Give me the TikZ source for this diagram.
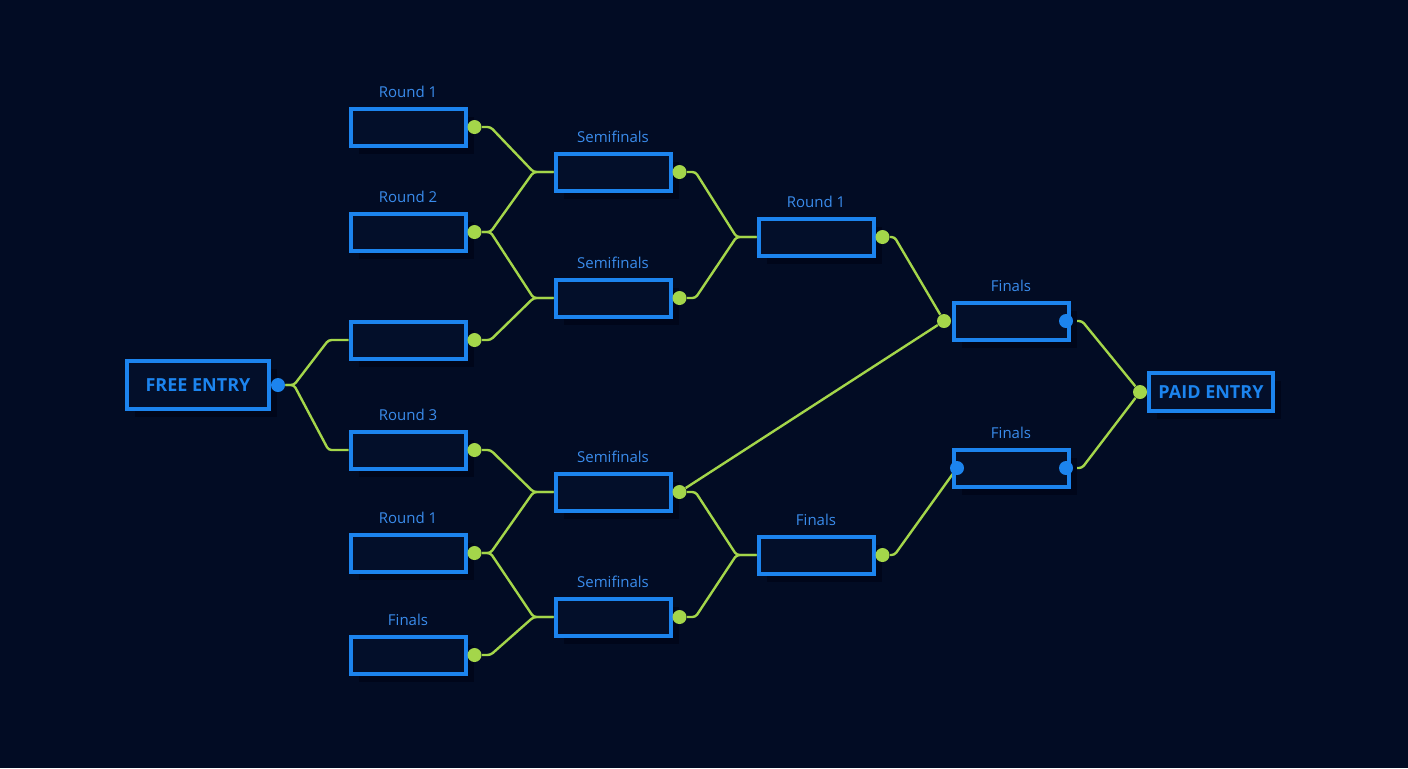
\documentclass[tikz,border=0pt]{standalone}
\usepackage{fontspec}
\setmainfont{Open Sans}
\usetikzlibrary{positioning, shadows}
\definecolor{bknavy}{HTML}{020C24}
\definecolor{bkbox}{HTML}{030F2A}
\definecolor{bkshade}{HTML}{00061A}
\definecolor{bkblue}{HTML}{1C84EE}
\definecolor{bklabel}{HTML}{3A8CEC}
\definecolor{bklime}{HTML}{A4D64A}
\pgfdeclarelayer{back}
\pgfsetlayers{back,main}

\begin{document}
\begin{tikzpicture}[x=0.5pt, y=-0.5pt,
    slot/.style={draw=bkblue, line width=2pt, fill=bkbox, minimum width=57.5pt, minimum height=18.5pt, inner sep=0pt,
      drop shadow={shadow xshift=4pt, shadow yshift=-4pt, fill=bkshade, opacity=1}},
    entry/.style={slot, text=bkblue, font=\bfseries\fontsize{9}{10}\selectfont},
    lbl/.style={text=bklabel, font=\fontsize{7.5}{9}\selectfont, inner sep=0pt},
    gdot/.style={circle, fill=bklime, minimum size=7pt, inner sep=0pt},
    bdot/.style={circle, fill=bkblue, minimum size=7pt, inner sep=0pt},
    wire/.style={draw=bklime, line width=1.2pt, rounded corners=1.5pt, to path={-- ++(8pt,0) -- ([xshift=-10pt]\tikztotarget) -- (\tikztotarget)}},
    tail/.style={draw=bklime, line width=1.2pt, rounded corners=1.5pt, to path={-- ++(6pt,0) -- (\tikztotarget)}}]
  \begin{pgfonlayer}{back}
    \fill[bknavy] (0,0) rectangle (1408,768);
  \end{pgfonlayer}
  \useasboundingbox (0,0) rectangle (1408,768);

  % entries
  \node[entry, minimum width=71pt, minimum height=24pt] (free) at (198,385) {FREE ENTRY};
  \node[entry, minimum width=62pt, minimum height=19pt] (paid) at (1211,392) {PAID ENTRY};

  % first round
  \node[slot] (a1) at (408,127) {};
  \node[slot] (a2) at (408,232) {};
  \node[slot] (a3) at (408,340) {};
  \node[slot] (a4) at (408,450) {};
  \node[slot] (a5) at (408,553) {};
  \node[slot] (a6) at (408,655) {};
  \node[lbl, above=4pt of a1] (a1t) {Round 1};
  \node[lbl, above=4pt of a2] (a2t) {Round 2};
  \node[lbl, above=4pt of a4] (a4t) {Round 3};
  \node[lbl, above=4pt of a5] (a5t) {Round 1};
  \node[lbl, above=4pt of a6] (a6t) {Finals};

  % semifinals
  \node[slot] (b1) at (613,172) {};
  \node[slot] (b2) at (613,298) {};
  \node[slot] (b3) at (613,492) {};
  \node[slot] (b4) at (613,617) {};
  \node[lbl, above=4pt of b1] (b1t) {Semifinals};
  \node[lbl, above=4pt of b2] (b2t) {Semifinals};
  \node[lbl, above=4pt of b3] (b3t) {Semifinals};
  \node[lbl, above=4pt of b4] (b4t) {Semifinals};

  \node[slot] (c1) at (816,237) {};
  \node[slot] (c2) at (816,555) {};
  \node[lbl, above=4pt of c1] (c1t) {Round 1};
  \node[lbl, above=4pt of c2] (c2t) {Finals};

  \node[slot] (d1) at (1011,321) {};
  \node[slot] (d2) at (1011,468) {};
  \node[lbl, above=4pt of d1] (d1t) {Finals};
  \node[lbl, above=4pt of d2] (d2t) {Finals};

  % ports
  \node[bdot] (freeo) at ([xshift=3.5pt]free.east) {};
  \node[gdot] (paidi) at ([xshift=-3.5pt]paid.west) {};
  \node[gdot] (a1o) at ([xshift=3.5pt]a1.east) {};
  \node[gdot] (a2o) at ([xshift=3.5pt]a2.east) {};
  \node[gdot] (a3o) at ([xshift=3.5pt]a3.east) {};
  \node[gdot] (a4o) at ([xshift=3.5pt]a4.east) {};
  \node[gdot] (a5o) at ([xshift=3.5pt]a5.east) {};
  \node[gdot] (a6o) at ([xshift=3.5pt]a6.east) {};
  \node[gdot] (b1o) at ([xshift=3.5pt]b1.east) {};
  \node[gdot] (b2o) at ([xshift=3.5pt]b2.east) {};
  \node[gdot] (b3o) at ([xshift=3.5pt]b3.east) {};
  \node[gdot] (b4o) at ([xshift=3.5pt]b4.east) {};
  \node[gdot] (c1o) at ([xshift=3.5pt]c1.east) {};
  \node[gdot] (c2o) at ([xshift=3.5pt]c2.east) {};
  \node[gdot] (d1i) at ([xshift=-3.75pt]d1.west) {};
  \node[bdot] (d1o) at ([xshift=-2.25pt]d1.east) {};
  \node[bdot] (d2i) at ([xshift=2.75pt]d2.west) {};
  \node[bdot] (d2o) at ([xshift=-2.25pt]d2.east) {};

  % wires
  \begin{pgfonlayer}{back}
    \draw[wire] (freeo) to (a3.west);
    \draw[wire] (freeo) to (a4.west);
    \draw[wire] (a1o) to (b1.west);
    \draw[wire] (a2o) to (b1.west);
    \draw[wire] (a2o) to (b2.west);
    \draw[wire] (a3o) to (b2.west);
    \draw[wire] (a4o) to (b3.west);
    \draw[wire] (a5o) to (b3.west);
    \draw[wire] (a5o) to (b4.west);
    \draw[wire] (a6o) to (b4.west);
    \draw[wire] (b1o) to (c1.west);
    \draw[wire] (b2o) to (c1.west);
    \draw[wire] (b3o) to (c2.west);
    \draw[wire] (b4o) to (c2.west);
    \draw[tail] (c1o) to (d1i);
    \draw[draw=bklime, line width=1.2pt] (b3o) -- (d1i);
    \draw[tail] (c2o) to (d2i);
    \draw[wire] (d1o) to (paidi);
    \draw[wire] (d2o) to (paidi);
  \end{pgfonlayer}
\end{tikzpicture}
\end{document}
